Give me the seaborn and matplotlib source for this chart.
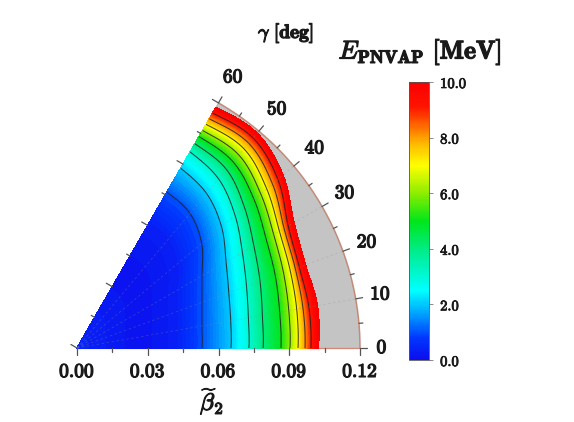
import numpy as np
import matplotlib
matplotlib.use('Agg')
import matplotlib.pyplot as plt
import matplotlib.patheffects as pe
import seaborn as sns
from matplotlib.colors import LinearSegmentedColormap, Normalize
from matplotlib.patches import Wedge
from matplotlib.cm import ScalarMappable

sns.set_theme(style='white')
plt.rcParams['mathtext.fontset'] = 'cm'
plt.rcParams['font.family'] = ['DejaVu Serif']

# ---------------- data ----------------
gamma_nodes = [0, 10, 20, 30, 40, 50, 60]          # deg
energy_levels = [1, 2, 3, 4, 5, 6, 7, 8, 9, 10]    # MeV, contour levels
# beta_2 where E crosses each level, along each gamma ray
beta_g0 = [0.0530, 0.0653, 0.0729, 0.0789, 0.0865, 0.0903, 0.0937, 0.0967, 0.0992, 0.1023]
beta_g10 = [0.0538, 0.0662, 0.0738, 0.0798, 0.0873, 0.0912, 0.0946, 0.0973, 0.0998, 0.1035]
beta_g20 = [0.0564, 0.0685, 0.0765, 0.0826, 0.0895, 0.0932, 0.0962, 0.0985, 0.1003, 0.1031]
beta_g30 = [0.0612, 0.0730, 0.0810, 0.0866, 0.0926, 0.0963, 0.0991, 0.1014, 0.1034, 0.1062]
beta_g40 = [0.0690, 0.0800, 0.0875, 0.0927, 0.0980, 0.1017, 0.1050, 0.1082, 0.1112, 0.1140]
beta_g50 = [0.0745, 0.0855, 0.0935, 0.0987, 0.1030, 0.1068, 0.1102, 0.1133, 0.1162, 0.1188]
beta_g60 = [0.0763, 0.0880, 0.0960, 0.1000, 0.1035, 0.1065, 0.1095, 0.1122, 0.1150, 0.1178]
energy_at_origin = 0.45
energy_inner = [0.12, 0.35]      # at 0.5 and 0.8 of the 1 MeV radius

beta_ticks = [0.00, 0.03, 0.06, 0.09, 0.12]
beta_tick_labels = ['0.00', '0.03', '0.06', '0.09', '0.12']
gamma_ticks = [0, 10, 20, 30, 40, 50, 60]
gamma_tick_labels = ['0', '10', '20', '30', '40', '50', '60']
cbar_ticks = [0, 2, 4, 6, 8, 10]
cbar_tick_labels = ['0.0', '2.0', '4.0', '6.0', '8.0', '10.0']
beta_max = 0.12
gamma_max = 60

# ---------------- build the energy surface ----------------
table = np.array([beta_g0, beta_g10, beta_g20, beta_g30, beta_g40, beta_g50, beta_g60])
gn = np.array(gamma_nodes, float)


def catmull_rom(xn, yn, xq):
    xn = np.asarray(xn, float); yn = np.asarray(yn, float)
    h = xn[1] - xn[0]
    ext = np.concatenate([[2 * yn[0] - yn[1]], yn, [2 * yn[-1] - yn[-2]]])
    out = np.empty_like(xq)
    for k, x in enumerate(xq):
        i = int(min(max((x - xn[0]) // h, 0), len(xn) - 2))
        t = (x - xn[i]) / h
        p0, p1, p2, p3 = ext[i], ext[i + 1], ext[i + 2], ext[i + 3]
        out[k] = 0.5 * ((2 * p1) + (-p0 + p2) * t + (2 * p0 - 5 * p1 + 4 * p2 - p3) * t ** 2
                        + (-p0 + 3 * p1 - 3 * p2 + p3) * t ** 3)
    return out


g_fine = np.linspace(0, gamma_max, 241)
b_fine = np.linspace(0, beta_max, 481)
lev_beta = np.array([catmull_rom(gn, table[:, k], g_fine) for k in range(len(energy_levels))])

E = np.empty((len(b_fine), len(g_fine)))
for j in range(len(g_fine)):
    bl = lev_beta[:, j]
    xp = np.concatenate([[0.0, 0.5 * bl[0], 0.8 * bl[0]], bl, [bl[-1] + 0.02]])
    fp = np.concatenate([[energy_at_origin], energy_inner, energy_levels, [14.0]])
    E[:, j] = np.interp(b_fine, xp, fp)

G, B = np.meshgrid(np.deg2rad(g_fine), b_fine)
X = B * np.cos(G)
Y = B * np.sin(G)

# ---------------- colormap ----------------
stops = [(0.00, (0.05, 0.05, 0.93)), (0.08, (0.0, 0.22, 1.0)), (0.17, (0.0, 0.66, 1.0)),
         (0.25, (0.0, 1.0, 1.0)), (0.39, (0.0, 0.93, 0.55)), (0.50, (0.0, 0.90, 0.10)),
         (0.60, (0.55, 0.93, 0.0)), (0.70, (1.0, 1.0, 0.0)), (0.78, (1.0, 0.72, 0.0)),
         (0.85, (1.0, 0.38, 0.0)), (0.91, (1.0, 0.08, 0.0)), (1.00, (0.98, 0.0, 0.0))]
cmap = LinearSegmentedColormap.from_list('pes', stops)
norm = Normalize(0, 10)

# ---------------- figure ----------------
W, H = 574, 422
fig = plt.figure(figsize=(W / 100, H / 100), dpi=100)
fig.patch.set_facecolor('white')
scale = 283 / beta_max           # px per unit beta
ox, oy = 77, H - 348             # origin in px (from bottom-left)
ax = fig.add_axes([0, 0, 1, 1])
ax.set_xlim(-ox / scale, (W - ox) / scale)
ax.set_ylim(-oy / scale, (H - oy) / scale)
ax.axis('off')

ax.add_patch(Wedge((0, 0), beta_max, 0, gamma_max, facecolor='#c4c4c4', edgecolor='none', zorder=1))
cf = ax.contourf(X, Y, E, levels=np.linspace(0, 10, 101), cmap=cmap, norm=norm, zorder=2)
cf.set_edgecolor('face')
cf.set_linewidth(0.35)
ax.contour(X, Y, E, levels=energy_levels[:-1], colors='#222222', linewidths=0.75, alpha=0.85, zorder=3)

# faint dashed grid rays
for g in gamma_ticks[1:-1]:
    gr = np.deg2rad(g)
    ax.plot([0, beta_max * np.cos(gr)], [0, beta_max * np.sin(gr)], ls=(0, (3, 3)),
            color='#909090', lw=0.6, alpha=0.3, zorder=3.5)

# boundaries
arc = np.deg2rad(np.linspace(0, gamma_max, 200))
ax.plot(beta_max * np.cos(arc), beta_max * np.sin(arc), color='#c48a78', lw=1.1, zorder=4)
ax.plot([0, beta_max], [0, 0], color='#d08878', lw=0.9, zorder=1.5)
g60 = np.deg2rad(gamma_max)
ax.plot([0, beta_max * np.cos(g60)], [0, beta_max * np.sin(g60)], color='#b0b0b0', lw=0.6, zorder=1.5)

txt_col = '#1a1a1a'
bold = [pe.withStroke(linewidth=0.9, foreground=txt_col)]

tick_col = '#555555'
maj_len, min_len = 7 / scale, 4 / scale
# beta ticks (bottom edge and 60 deg edge)
beta_all = np.arange(0, beta_max + 1e-9, 0.015)
nx, ny = -np.sin(g60), np.cos(g60)
for b in beta_all:
    major = any(abs(b - t) < 1e-9 for t in beta_ticks)
    L = maj_len if major else min_len
    ax.plot([b, b], [0, -L], color=tick_col, lw=0.9, zorder=5)
    px, py = b * np.cos(g60), b * np.sin(g60)
    ax.plot([px, px + L * nx], [py, py + L * ny], color=tick_col, lw=0.9, zorder=5)
for t, lab in zip(beta_ticks, beta_tick_labels):
    ax.text(t, -24 / scale, r'$\mathbf{%s}$' % lab, ha='center', va='center', fontsize=14,
            color=txt_col, path_effects=bold)

# gamma ticks on arc
for g in range(0, gamma_max + 1, 5):
    gr = np.deg2rad(g)
    L = maj_len if g % 10 == 0 else min_len
    ax.plot([beta_max * np.cos(gr), (beta_max + L) * np.cos(gr)],
            [beta_max * np.sin(gr), (beta_max + L) * np.sin(gr)], color=tick_col, lw=0.9, zorder=5)
for g, lab in zip(gamma_ticks, gamma_tick_labels):
    gr = np.deg2rad(g)
    r = beta_max + (31 - 6 * np.cos(gr) ** 2 - 3 * (len(lab) == 1)) / scale
    ax.text(r * np.cos(gr), r * np.sin(gr), r'$\mathbf{%s}$' % lab, ha='center', va='center',
            fontsize=14, color=txt_col, path_effects=bold)

# axis titles
fig.text(212 / W, 1 - 402 / H, r'$\widetilde{\beta}_2$', ha='center', va='center', fontsize=17,
         color=txt_col, path_effects=bold)
fig.text(286 / W, 1 - 33 / H, r'$\gamma\ \mathbf{[deg]}$', ha='center', va='center', fontsize=14,
         color=txt_col, path_effects=bold)
fig.text(420 / W, 1 - 52 / H, r'$E_{\mathbf{PNVAP}}\ \mathbf{[MeV]}$', ha='center', va='center', fontsize=18.5,
         color=txt_col, path_effects=bold)

# colorbar
cax = fig.add_axes([409 / W, 1 - 360 / H, 20 / W, 278 / H])
cb = fig.colorbar(ScalarMappable(norm=norm, cmap=cmap), cax=cax, ticks=cbar_ticks)
cb.ax.set_yticklabels([r'$\mathbf{%s}$' % s for s in cbar_tick_labels], fontsize=10.5)
for t in cb.ax.get_yticklabels():
    t.set_path_effects([pe.withStroke(linewidth=0.6, foreground=txt_col)])
    t.set_color(txt_col)
cb.outline.set_linewidth(0.6)
cb.outline.set_edgecolor('#555555')
cb.ax.tick_params(length=3, width=0.6, color='#777777', pad=5)

fig.savefig('out.png', dpi=100)
